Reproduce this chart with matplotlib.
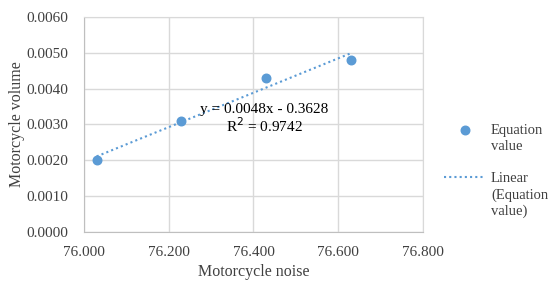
import matplotlib.pyplot as plt
from matplotlib.lines import Line2D
import numpy as np

# Data
noise = [76.03, 76.23, 76.43, 76.63]
volume = [0.0020, 0.0031, 0.0043, 0.0048]
x_ticks = [76.0, 76.2, 76.4, 76.6, 76.8]
y_ticks = [0.0, 0.001, 0.002, 0.003, 0.004, 0.005, 0.006]

plt.rcParams["font.family"] = ["Liberation Serif", "DejaVu Serif"]
blue = "#5B9BD5"
text_col = "#404040"

fig = plt.figure(figsize=(5.51, 2.81), dpi=100)
ax = fig.add_axes([0.1524, 0.1744, 0.6153, 0.7651])

# Scatter points
pts = ax.scatter(noise, volume, s=38, color=blue, zorder=3)

# Linear trendline through the points
slope, intercept = np.polyfit(noise, volume, 1)
xs = np.array([noise[0], noise[-1]])
trend, = ax.plot(xs, slope * xs + intercept, color=blue, linestyle=(0, (1, 1.5)),
                 linewidth=1.5, zorder=2)

# R squared
pred = slope * np.array(noise) + intercept
resid = np.sum((np.array(volume) - pred) ** 2)
tot = np.sum((np.array(volume) - np.mean(volume)) ** 2)
r2 = 1 - resid / tot
ax.text(76.425, 0.00315, f"y = {slope:.4f}x - {abs(intercept):.4f}\nR$^2$ = {r2:.4f}",
        ha="center", va="center", fontsize=11, linespacing=1.0, zorder=4)

ax.set_xlim(76.0, 76.8)
ax.set_ylim(0, 0.006)
ax.set_xticks(x_ticks)
ax.set_yticks(y_ticks)
ax.xaxis.set_major_formatter(plt.FuncFormatter(lambda v, pos: f"{v:.3f}"))
ax.yaxis.set_major_formatter(plt.FuncFormatter(lambda v, pos: f"{v:.4f}"))
ax.tick_params(length=0, labelsize=11, colors=text_col)
ax.tick_params(axis="x", pad=10)
ax.tick_params(axis="y", pad=11)

ax.grid(True, color="#D9D9D9", linewidth=1)
ax.set_axisbelow(True)
for s in ax.spines.values():
    s.set_color("#D9D9D9")
ax.spines["left"].set_color("#BFBFBF")
ax.spines["bottom"].set_color("#BFBFBF")

ax.set_xlabel("Motorcycle noise", fontsize=11.5, color=text_col, labelpad=4)
ax.set_ylabel("Motorcycle volume", fontsize=11.5, color=text_col, labelpad=1)

# Legend: one row per text line so the handle sits on the first line, like Excel
blank = Line2D([], [], linestyle="none")
handles = [pts, blank, blank, trend, blank, blank]
labels = ["Equation", "value", " ", "Linear", "(Equation", "value)"]
ax.legend(handles, labels, loc="upper left", bbox_to_anchor=(0.796, 0.58),
          bbox_transform=fig.transFigure, frameon=False, fontsize=10.5,
          handlelength=2.8, labelspacing=0.2, handletextpad=0.4,
          borderaxespad=0, labelcolor=text_col)

plt.savefig("out.png", dpi=100)
